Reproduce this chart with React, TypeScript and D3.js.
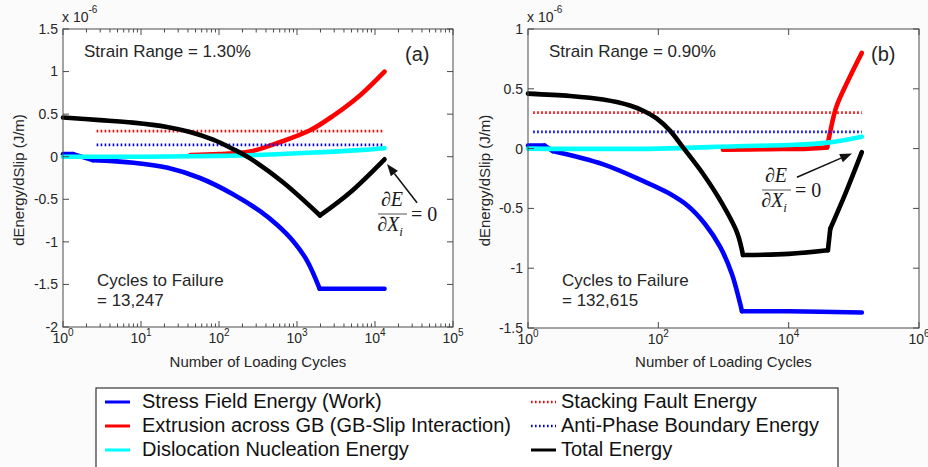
import React from "react";
import * as d3 from "d3";

// ---------- Panel (a): strain range 1.30% ----------
const aStressN = [1, 1.35, 2.4, 8, 22, 57, 151, 336, 554, 889, 1343, 1950, 13247];
const aStressE = [0.03, 0.03, -0.04, -0.07, -0.13, -0.25, -0.44, -0.64, -0.8, -0.99, -1.22, -1.55, -1.55];
const aStressBreaks = [1, 2, 11];
const aExtrN = [43, 100, 250, 600, 1470, 2900, 6400, 13247];
const aExtrE = [0.02, 0.03, 0.06, 0.17, 0.31, 0.48, 0.72, 1.0];
const aNuclN = [1, 10, 100, 300, 1000, 3000, 7000, 13247];
const aNuclE = [0, 0, 0.01, 0.02, 0.04, 0.06, 0.08, 0.1];
const aFlatN = [2.7, 13247];
const aSFE = [0.3, 0.3];
const aAPBE = [0.14, 0.14];
const aTotalN = [1, 3, 7.9, 21.5, 42.5, 84, 151, 250, 661, 1972, 4790, 13247];
const aTotalE = [0.46, 0.43, 0.4, 0.35, 0.29, 0.2, 0.09, -0.02, -0.3, -0.69, -0.42, -0.03];
const aTotalBreaks = [9];
const aYTicks = [-2, -1.5, -1, -0.5, 0, 0.5, 1, 1.5];
const aYTickLabels = ["-2", "-1.5", "-1", "-0.5", "0", "0.5", "1", "1.5"];
const aXExp = [0, 1, 2, 3, 4, 5];
const aArrow = { from: [34600, -0.54], to: [14260, -0.086] };

// ---------- Panel (b): strain range 0.90% ----------
const bStressN = [1, 1.8, 2.4, 14, 58, 141, 285, 520, 884, 1350, 1920, 10000, 132615];
const bStressE = [0.025, 0.025, -0.02, -0.13, -0.27, -0.37, -0.48, -0.63, -0.82, -1.05, -1.36, -1.36, -1.37];
const bStressBreaks = [1, 2, 10];
const bExtrN = [980, 5000, 20000, 39000, 43000, 54000, 87000, 132615];
const bExtrE = [-0.01, -0.005, 0, 0.01, 0.13, 0.35, 0.6, 0.8];
const bExtrBreaks = [3];
const bNuclN = [1, 100, 1600, 10000, 40000, 132615];
const bNuclE = [0, 0, 0.02, 0.03, 0.05, 0.1];
const bFlatN = [1.2, 132615];
const bSFE = [0.3, 0.3];
const bAPBE = [0.14, 0.14];
const bTotalN = [1, 4.4, 14.2, 36.7, 62, 95, 151, 239, 484, 884, 1610, 1990, 10000, 40000, 43500, 75000, 132615];
const bTotalE = [0.46, 0.44, 0.41, 0.36, 0.31, 0.25, 0.15, 0.01, -0.21, -0.43, -0.7, -0.89, -0.88, -0.85, -0.67, -0.37, -0.03];
const bTotalBreaks = [11, 13, 14];
const bYTicks = [-1.5, -1, -0.5, 0, 0.5, 1];
const bYTickLabels = ["-1.5", "-1", "-0.5", "0", "0.5", "1"];
const bXExp = [0, 2, 4, 6];
const bArrow = { from: [13400, -0.24], to: [93800, -0.04] };

// ---------- Legend ----------
const legendLabels = [
  "Stress Field Energy (Work)",
  "Extrusion across GB (GB-Slip Interaction)",
  "Dislocation Nucleation Energy",
  "Stacking Fault Energy",
  "Anti-Phase Boundary Energy",
  "Total Energy",
];
const legendColors = ["#0000ff", "#ff0000", "#00ffff", "#ff0000", "#0000ff", "#000000"];
const legendDotted = [false, false, false, true, true, false];

const SANS = "'Liberation Sans', Arial, Helvetica, sans-serif";
const SERIF = "'Liberation Serif', 'Times New Roman', serif";
const AXIS = "#4a4a4a";
const TXT = "#262626";

type S = { n: number[]; e: number[]; color: string; dotted?: boolean; breaks?: number[] };

function pieces(s: S): [number, number][][] {
  const pts = s.n.map((v, j) => [v, s.e[j]] as [number, number]);
  const cuts = [0, ...(s.breaks || []), pts.length - 1];
  const out: [number, number][][] = [];
  for (let i = 0; i < cuts.length - 1; i++) out.push(pts.slice(cuts[i], cuts[i + 1] + 1));
  return out;
}

function Panel(props: any) {
  const { left, right, top, bottom, xDomain, yDomain, xExp, minor, yTicks, yLabels, series,
    strain, tag, failure, frac, arrow, ylabelX } = props;
  const x = d3.scaleLog().domain(xDomain).range([left, right]);
  const y = d3.scaleLinear().domain(yDomain).range([bottom, top]);
  const smooth = d3.line<[number, number]>().x((d) => x(d[0])).y((d) => y(d[1])).curve(d3.curveCatmullRom.alpha(0.5));
  const minors: number[] = [];
  if (minor) {
    const lo = Math.log10(xDomain[0]);
    const hi = Math.log10(xDomain[1]);
    for (let d = lo; d < hi; d++) for (let m = 2; m <= 9; m++) minors.push(m * Math.pow(10, d));
  }
  const ax = x(arrow.from[0]), ay = y(arrow.from[1]);
  const hx = x(arrow.to[0]), hy = y(arrow.to[1]);
  const ang = Math.atan2(hy - ay, hx - ax);
  const hl = 12, hw = 4.5;
  const bx = hx - hl * Math.cos(ang), by = hy - hl * Math.sin(ang);
  const head = `${hx},${hy} ${bx + hw * Math.sin(ang)},${by - hw * Math.cos(ang)} ${bx - hw * Math.sin(ang)},${by + hw * Math.cos(ang)}`;
  const midY = (top + bottom) / 2;
  return (
    <g>
      <rect x={left} y={top} width={right - left} height={bottom - top} fill="#fff" />
      {series.map((s: S, i: number) => (
        <g key={i}>
          {pieces(s).map((p, k) => (
            <path key={k} d={smooth(p) || ""}
              fill="none" stroke={s.color} strokeWidth={s.dotted ? 2.8 : 4.6}
              strokeDasharray={s.dotted ? "1.6,2.4" : undefined}
              strokeLinejoin="round" strokeLinecap={s.dotted ? "butt" : "round"} />
          ))}
        </g>
      ))}
      <rect x={left} y={top} width={right - left} height={bottom - top} fill="none" stroke={AXIS} strokeWidth={1} />
      {xExp.map((e: number) => (
        <g key={"xt" + e}>
          <line x1={x(Math.pow(10, e))} x2={x(Math.pow(10, e))} y1={bottom} y2={bottom - 6} stroke={AXIS} />
          <line x1={x(Math.pow(10, e))} x2={x(Math.pow(10, e))} y1={top} y2={top + 6} stroke={AXIS} />
          <text x={x(Math.pow(10, e))} y={bottom + 16} textAnchor="middle" fontFamily={SANS} fontSize={14} fill={TXT}>
            <tspan>10</tspan>
            <tspan dy={-7} fontSize={10}>{e}</tspan>
          </text>
        </g>
      ))}
      {minors.map((m) => (
        <g key={"mt" + m}>
          <line x1={x(m)} x2={x(m)} y1={bottom} y2={bottom - 3.5} stroke={AXIS} />
          <line x1={x(m)} x2={x(m)} y1={top} y2={top + 3.5} stroke={AXIS} />
        </g>
      ))}
      {yTicks.map((t: number, i: number) => (
        <g key={"yt" + t}>
          <line x1={left} x2={left + 6} y1={y(t)} y2={y(t)} stroke={AXIS} />
          <line x1={right} x2={right - 6} y1={y(t)} y2={y(t)} stroke={AXIS} />
          <text x={left - 5} y={y(t)} dy="0.35em" textAnchor="end" fontFamily={SANS} fontSize={14} fill={TXT}>{yLabels[i]}</text>
        </g>
      ))}
      <text x={left - 1} y={top - 7} fontFamily={SANS} fontSize={14} fill={TXT}>
        <tspan>x 10</tspan>
        <tspan dy={-9} fontSize={10}>-6</tspan>
      </text>
      <text x={(left + right) / 2} y={367} textAnchor="middle" fontFamily={SANS} fontSize={15} fill={TXT}>Number of Loading Cycles</text>
      <text transform={`translate(${ylabelX},${midY + 2}) rotate(-90)`} textAnchor="middle" fontFamily={SANS} fontSize={15} fill={TXT}>dEnergy/dSlip (J/m)</text>
      <text x={left + 21} y={57} fontFamily={SANS} fontSize={17} fill={TXT}>{strain}</text>
      <text x={right - 48} y={61} fontFamily={SANS} fontSize={20} fill={TXT}>{tag}</text>
      <text x={left + 34} y={286} fontFamily={SANS} fontSize={17} fill={TXT}>Cycles to Failure</text>
      <text x={left + 34} y={306} fontFamily={SANS} fontSize={17} fill={TXT}>{"= " + failure}</text>
      <g fontFamily={SERIF} fontSize={20} fill="#1a1a1a">
        <text x={frac.cx} y={frac.by - 8} textAnchor="middle">∂<tspan fontStyle="italic">E</tspan></text>
        <line x1={frac.cx - 14} x2={frac.cx + 15} y1={frac.by} y2={frac.by} stroke="#555" strokeWidth={1} />
        <text x={frac.cx - 2} y={frac.by + 17} textAnchor="middle">∂<tspan fontStyle="italic">X</tspan><tspan fontStyle="italic" fontSize={13} dy={5}>i</tspan></text>
        <text x={frac.cx + 19} y={frac.by + 7}>= 0</text>
      </g>
      <line x1={ax} y1={ay} x2={bx} y2={by} stroke="#111" strokeWidth={1.5} />
      <polygon points={head} fill="#111" />
    </g>
  );
}

export default function App() {
  const aSeries: S[] = [
    { n: aStressN, e: aStressE, color: "#0000ff", breaks: aStressBreaks },
    { n: aExtrN, e: aExtrE, color: "#ff0000" },
    { n: aNuclN, e: aNuclE, color: "#00ffff" },
    { n: aFlatN, e: aSFE, color: "#ff0000", dotted: true },
    { n: aFlatN, e: aAPBE, color: "#0000ff", dotted: true },
    { n: aTotalN, e: aTotalE, color: "#000000", breaks: aTotalBreaks },
  ];
  const bSeries: S[] = [
    { n: bStressN, e: bStressE, color: "#0000ff", breaks: bStressBreaks },
    { n: bExtrN, e: bExtrE, color: "#ff0000", breaks: bExtrBreaks },
    { n: bNuclN, e: bNuclE, color: "#00ffff" },
    { n: bFlatN, e: bSFE, color: "#ff0000", dotted: true },
    { n: bFlatN, e: bAPBE, color: "#0000ff", dotted: true },
    { n: bTotalN, e: bTotalE, color: "#000000", breaks: bTotalBreaks },
  ];
  const rowY = [408, 432, 456];
  return (
    <svg width={928} height={467} style={{ position: "absolute", left: 0, top: 0, display: "block" }}>
      <rect x={0} y={0} width={928} height={467} fill="#fbfbfb" />
      <Panel left={63} right={453} top={29} bottom={327} xDomain={[1, 1e5]} yDomain={[-2, 1.5]}
        xExp={aXExp} minor={true} yTicks={aYTicks} yLabels={aYTickLabels} series={aSeries}
        strain="Strain Range = 1.30%" tag="(a)" failure="13,247" frac={{ cx: 392, by: 214 }}
        arrow={aArrow} ylabelX={24} />
      <Panel left={528} right={919} top={29} bottom={328} xDomain={[1, 1e6]} yDomain={[-1.5, 1]}
        xExp={bXExp} minor={false} yTicks={bYTicks} yLabels={bYTickLabels} series={bSeries}
        strain="Strain Range = 0.90%" tag="(b)" failure="132,615" frac={{ cx: 776, by: 190 }}
        arrow={bArrow} ylabelX={490} />
      <g>
        <rect x={96} y={388} width={742} height={80} fill="#fff" stroke="#333" strokeWidth={1.2} />
        {legendLabels.map((lab, i) => {
          const col = i < 3 ? 0 : 1;
          const row = i % 3;
          const sx = col === 0 ? 105 : 531;
          const tx = col === 0 ? 142 : 561;
          const yy = rowY[row];
          return (
            <g key={lab}>
              <line x1={sx} x2={sx + 25} y1={yy - 6} y2={yy - 6} stroke={legendColors[i]}
                strokeWidth={legendDotted[i] ? 2.5 : 3}
                strokeDasharray={legendDotted[i] ? "1.6,2.4" : undefined} />
              <text x={tx} y={yy} fontFamily={SANS} fontSize={20} fill="#111">{lab}</text>
            </g>
          );
        })}
      </g>
    </svg>
  );
}
